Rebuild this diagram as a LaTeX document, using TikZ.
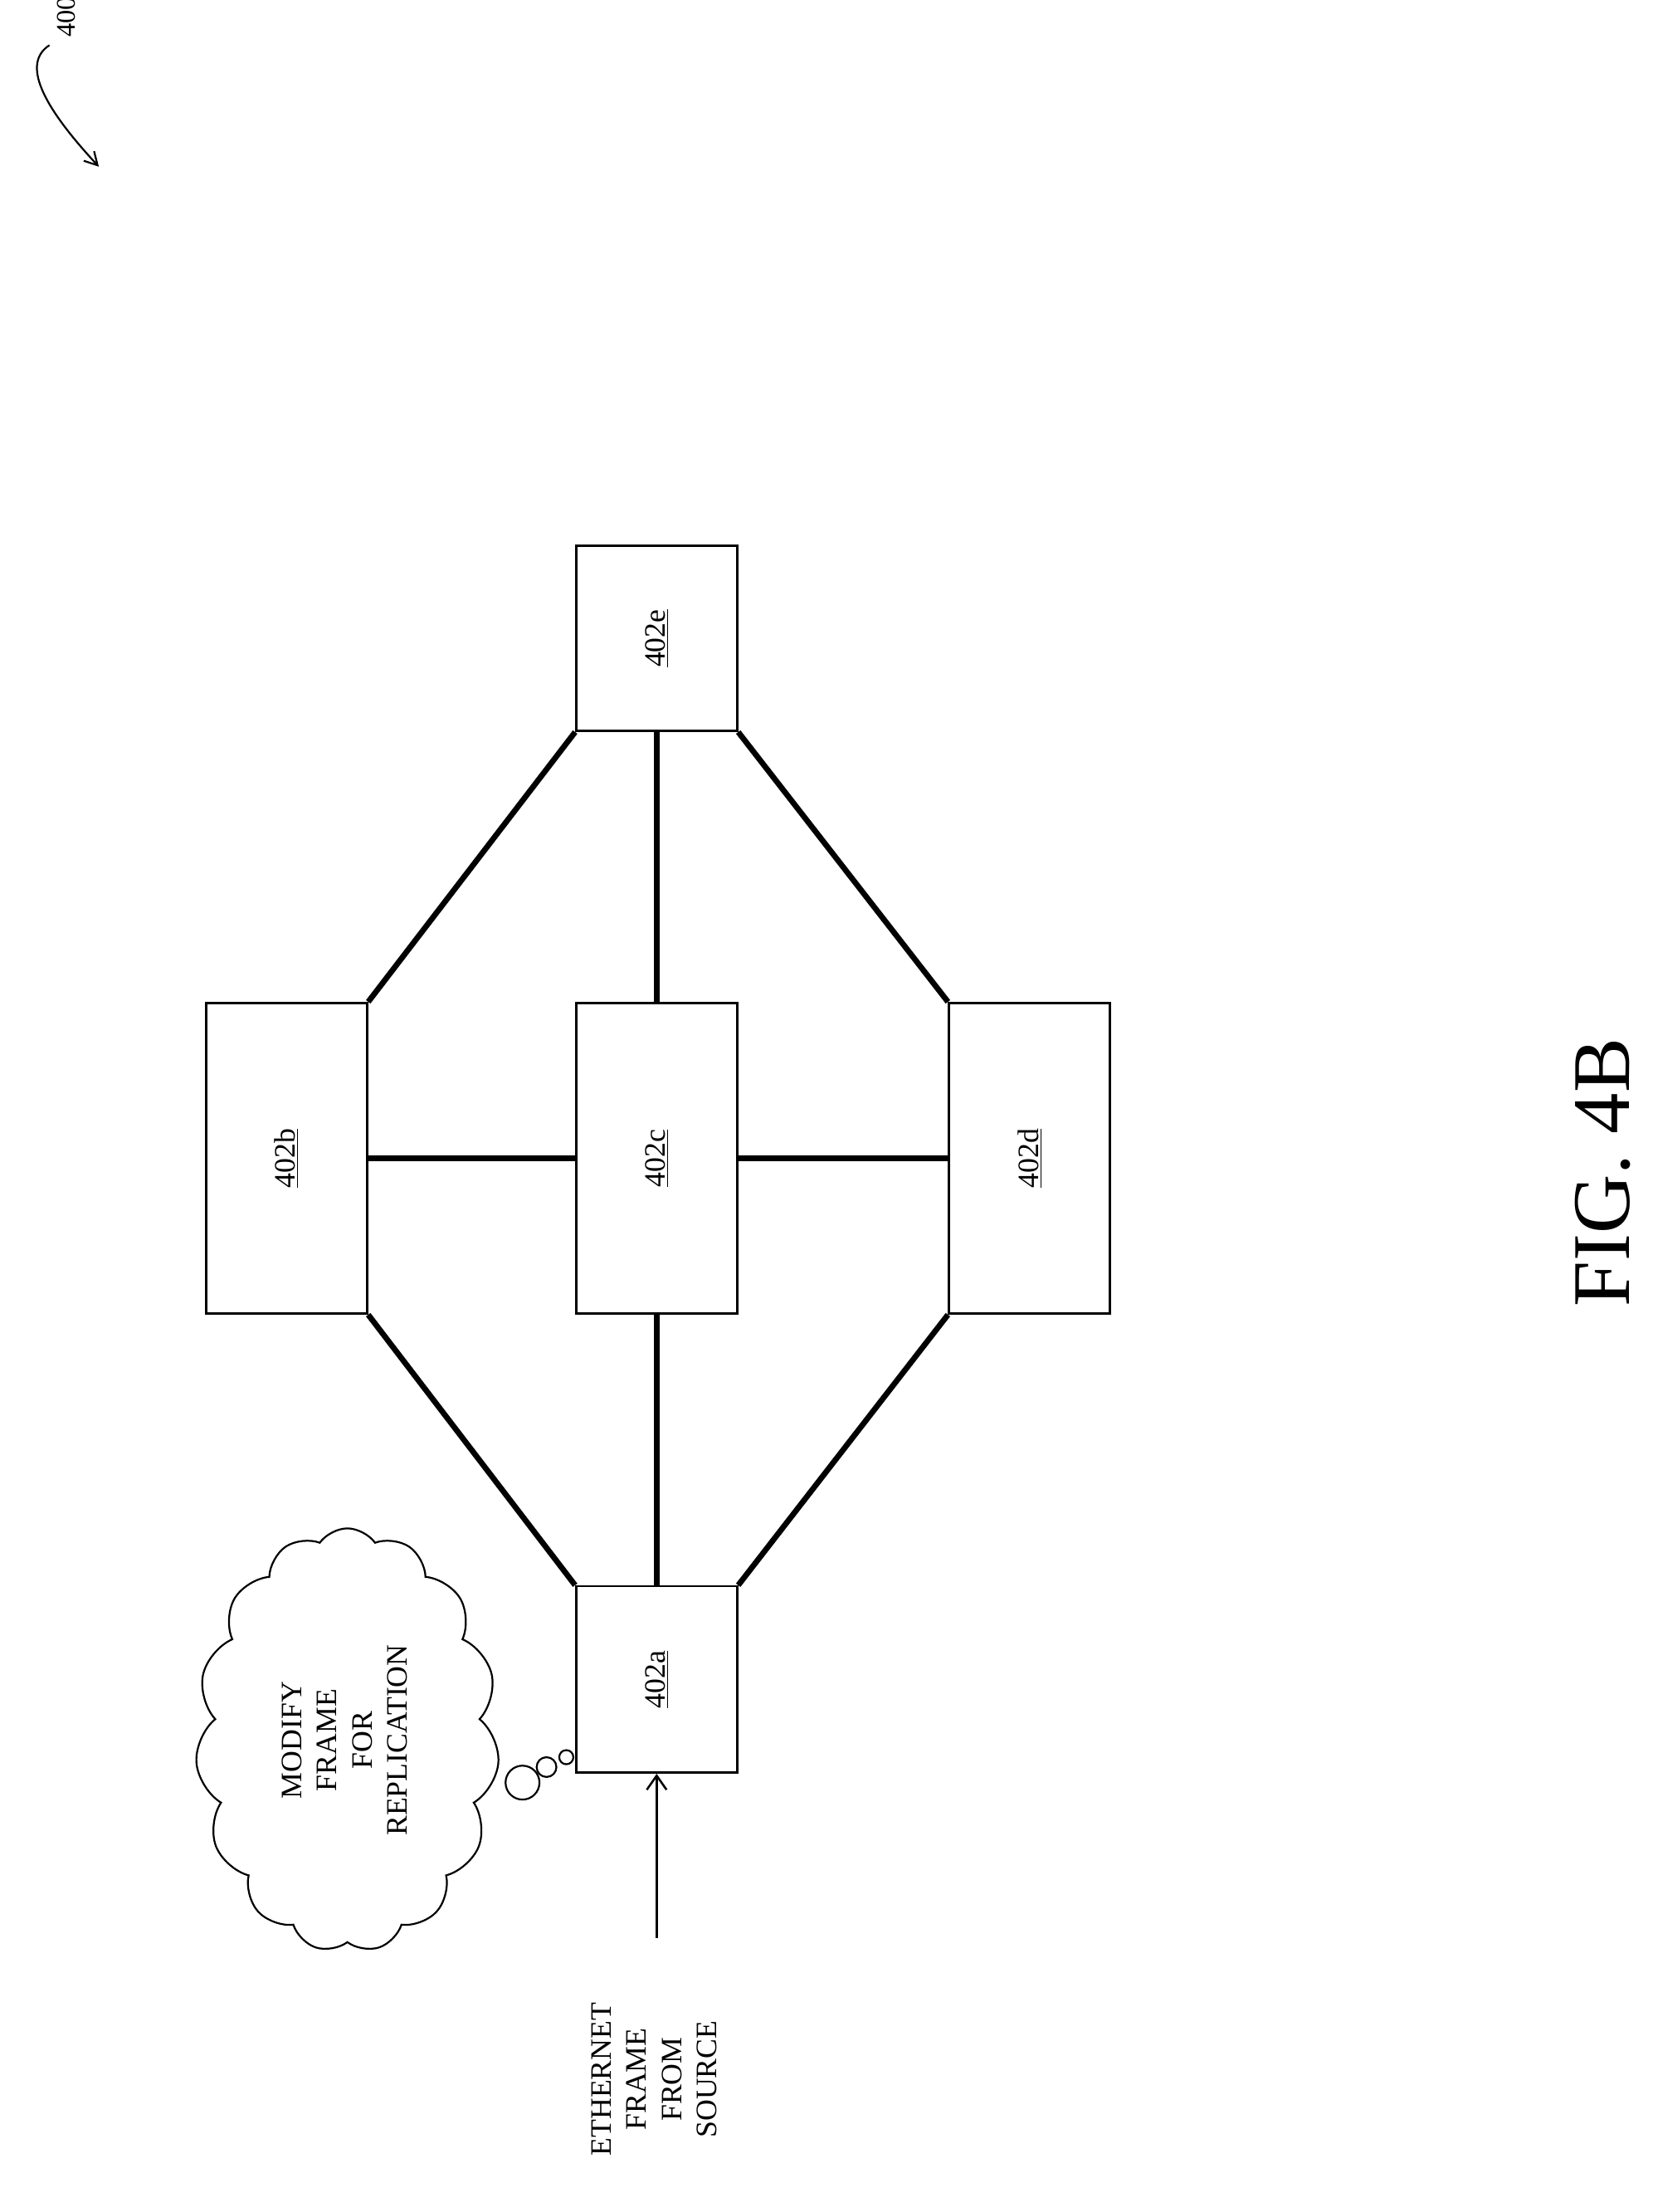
\documentclass[tikz,border=0pt]{standalone}
\usepackage{fontspec}
\setmainfont{Liberation Serif}
\usetikzlibrary{shapes.symbols,arrows.meta}
\tikzset{
  box/.style={draw, line width=1.5pt, fill=white, font=\fontsize{21}{24}\selectfont},
  link/.style={line width=4pt},
}
\begin{document}
\begin{tikzpicture}[x=1pt, y=-1pt]
	\useasboundingbox (0,0) rectangle (1170,1566);
	% switches
	\node[box, minimum width=114pt, minimum height=131pt] (e) at (465,452) {\rotatebox{90}{\underline{402e}}};
	\node[box, minimum width=114pt, minimum height=220pt] (b) at (203,820) {\rotatebox{90}{\underline{402b}}};
	\node[box, minimum width=114pt, minimum height=220pt] (c) at (465,820) {\rotatebox{90}{\underline{402c}}};
	\node[box, minimum width=114pt, minimum height=220pt] (d) at (729,820) {\rotatebox{90}{\underline{402d}}};
	\node[box, minimum width=114pt, minimum height=132pt] (a) at (465,1189) {\rotatebox{90}{\underline{402a}}};
	% links
	\draw[link] (a.north west) -- (b.south east);
	\draw[link] (a.north) -- (c.south);
	\draw[link] (a.north east) -- (d.south west);
	\draw[link] (b.east) -- (c.west);
	\draw[link] (c.east) -- (d.west);
	\draw[link] (b.north east) -- (e.south west);
	\draw[link] (c.north) -- (e.south);
	\draw[link] (d.north west) -- (e.south east);
	% thought cloud
	\node[cloud, draw, line width=1.3pt, cloud puffs=15, cloud puff arc=110, aspect=0.7,
	  minimum width=215pt, minimum height=300pt, align=center, font=\fontsize{21}{25}\selectfont] (cl) at (246,1232)
	  {\rotatebox{90}{\begin{tabular}{c}MODIFY\\FRAME\\FOR\\REPLICATION\end{tabular}}};
	\draw[line width=1.3pt] (370,1262) circle (12pt);
	\draw[line width=1.3pt] (387,1251) circle (7pt);
	\draw[line width=1.3pt] (401,1244) circle (5pt);
	% incoming frame
	\node[font=\fontsize{21}{25}\selectfont] (src) at (465,1472)
	  {\rotatebox{90}{\begin{tabular}{c}ETHERNET\\FRAME\\FROM\\SOURCE\end{tabular}}};
	\draw[line width=1.5pt, -{Straight Barb[length=10pt,width=14pt]}] (465,1372) -- (a.south);
	% figure label
	\node[font=\fontsize{58}{60}\selectfont] (fig) at (1135,830) {\rotatebox{90}{FIG. 4B}};
	\node[font=\fontsize{19}{22}\selectfont] (ref) at (47,12) {\rotatebox{90}{400}};
	\draw[line width=1.3pt, -{Straight Barb[length=9pt,width=10pt]}] (35,32) .. controls (15,45) and (30,75) .. (70,118);
\end{tikzpicture}
\end{document}
